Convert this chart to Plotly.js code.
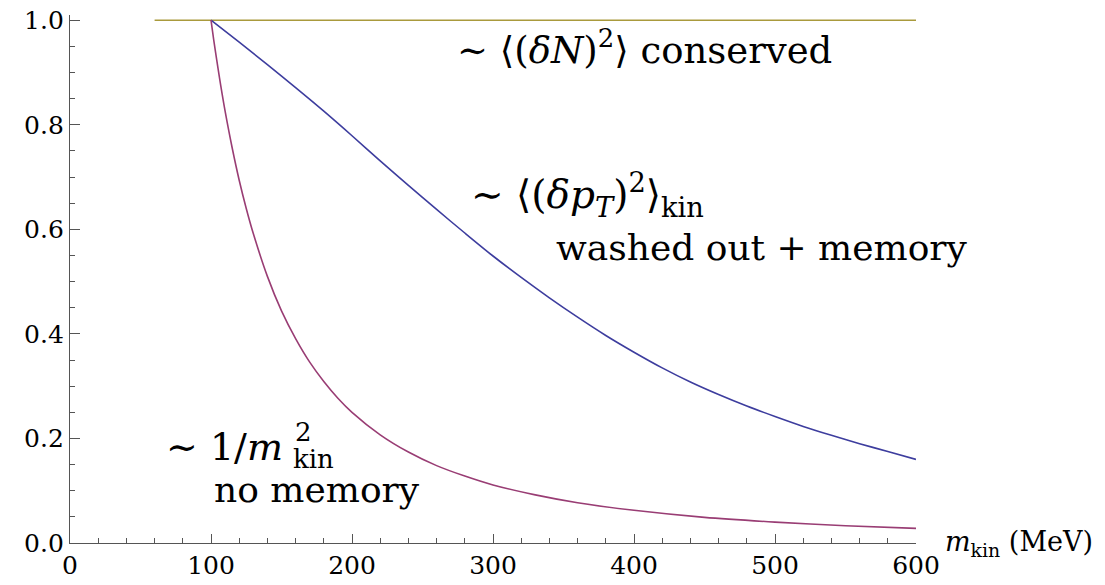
<!DOCTYPE html>
<html>
<head>
<meta charset="utf-8">
<script src="https://cdn.plot.ly/plotly-3.0.1.min.js"></script>
<style>html,body{margin:0;padding:0;background:#fff;}</style>
</head>
<body>
<div id="chart" style="width:1105px;height:585px;"></div>
<script>
// conserved: <(dN)^2>
const conservedX = [60, 600];
const conservedY = [1.0, 1.0];

// washed out + memory: <(dpT)^2>_kin
const memoryX = [100, 120, 140, 160, 180, 200, 220, 240, 260, 280, 300, 320, 340, 360, 380, 400, 420, 440, 460, 480, 500, 520, 540, 560, 580, 600];
const memoryY = [1.0, 0.958, 0.915, 0.871, 0.826, 0.779, 0.731, 0.684, 0.638, 0.593, 0.549, 0.508, 0.469, 0.432, 0.397, 0.365, 0.335, 0.308, 0.284, 0.262, 0.242, 0.223, 0.206, 0.190, 0.175, 0.160];

// no memory: 1/m_kin^2
const noMemX = [100, 102, 104, 106, 108, 110, 115, 120, 125, 130, 140, 150, 160, 170, 180, 190, 200, 220, 240, 260, 280, 300, 330, 360, 400, 450, 500, 550, 600];
const noMemY = [1.0, 0.961, 0.925, 0.890, 0.857, 0.826, 0.756, 0.694, 0.640, 0.592, 0.510, 0.444, 0.391, 0.346, 0.309, 0.277, 0.250, 0.207, 0.174, 0.148, 0.128, 0.111, 0.092, 0.077, 0.0625, 0.049, 0.040, 0.033, 0.028];

const xTicks = [0, 100, 200, 300, 400, 500, 600];
const yTicks = [0.0, 0.2, 0.4, 0.6, 0.8, 1.0];

const SERIF = "DejaVu Serif";
const axisColor = "#555555";
function mkFont(size) { return {family: SERIF, size: size, color: "#000000"}; }

const traces = [
  {x: conservedX, y: conservedY, mode: "lines", line: {color: "#a99a3c", width: 1.6}, hoverinfo: "skip"},
  {x: memoryX, y: memoryY, mode: "lines", line: {color: "#3d3d9e", width: 1.6, shape: "spline", smoothing: 0.8}, hoverinfo: "skip"},
  {x: noMemX, y: noMemY, mode: "lines", line: {color: "#993d74", width: 1.6, shape: "spline", smoothing: 0.8}, hoverinfo: "skip"}
];

function ann(x, y, text, size, ref) {
  return {x: x, y: y, xref: ref || "x", yref: "y", xanchor: "left", yanchor: "middle",
          showarrow: false, text: text, font: mkFont(size)};
}

const annotations = [
  ann(273, 0.947, "∼ ⟨(<i>δN</i>)<sup>2</sup>⟩ conserved", 37),
  ann(283, 0.665, "∼ ⟨(<i>δp</i><sub><i>T</i></sub>)<sup>2</sup>⟩<sub>kin</sub>", 39),
  ann(343, 0.566, "washed out + memory", 36),
  ann(67, 0.183, "∼ 1/<i>m</i>", 38),
  ann(158, 0.212, "2", 26),
  ann(157, 0.160, "kin", 26),
  ann(101, 0.103, "no memory", 36),
  ann(1.032, 0.0, "<i>m</i><sub>kin</sub> (MeV)", 27, "paper")
];

const layout = {
  width: 1105, height: 585,
  margin: {l: 70, r: 189, t: 15, b: 42, pad: 0},
  paper_bgcolor: "#ffffff", plot_bgcolor: "#ffffff",
  showlegend: false,
  font: mkFont(25),
  xaxis: {
    range: [0, 600], tickvals: xTicks, ticktext: xTicks.map(String),
    showgrid: false, zeroline: false, showline: true, linecolor: axisColor, linewidth: 1.2,
    ticks: "inside", ticklen: 9, tickwidth: 1, tickcolor: axisColor,
    minor: {dtick: 20, tick0: 0, ticks: "inside", ticklen: 5, tickwidth: 1, tickcolor: axisColor, showgrid: false},
    tickfont: mkFont(25),
    fixedrange: true
  },
  yaxis: {
    range: [0, 1.01], tickvals: yTicks, ticktext: yTicks.map(v => v.toFixed(1)),
    showgrid: false, zeroline: false, showline: true, linecolor: axisColor, linewidth: 1.2,
    ticks: "inside", ticklen: 10, tickwidth: 1, tickcolor: axisColor,
    minor: {dtick: 0.05, tick0: 0, ticks: "inside", ticklen: 5, tickwidth: 1, tickcolor: axisColor, showgrid: false},
    tickfont: mkFont(25),
    fixedrange: true
  },
  annotations: annotations
};

Plotly.newPlot("chart", traces, layout, {displayModeBar: false, staticPlot: true});
</script>
</body>
</html>
